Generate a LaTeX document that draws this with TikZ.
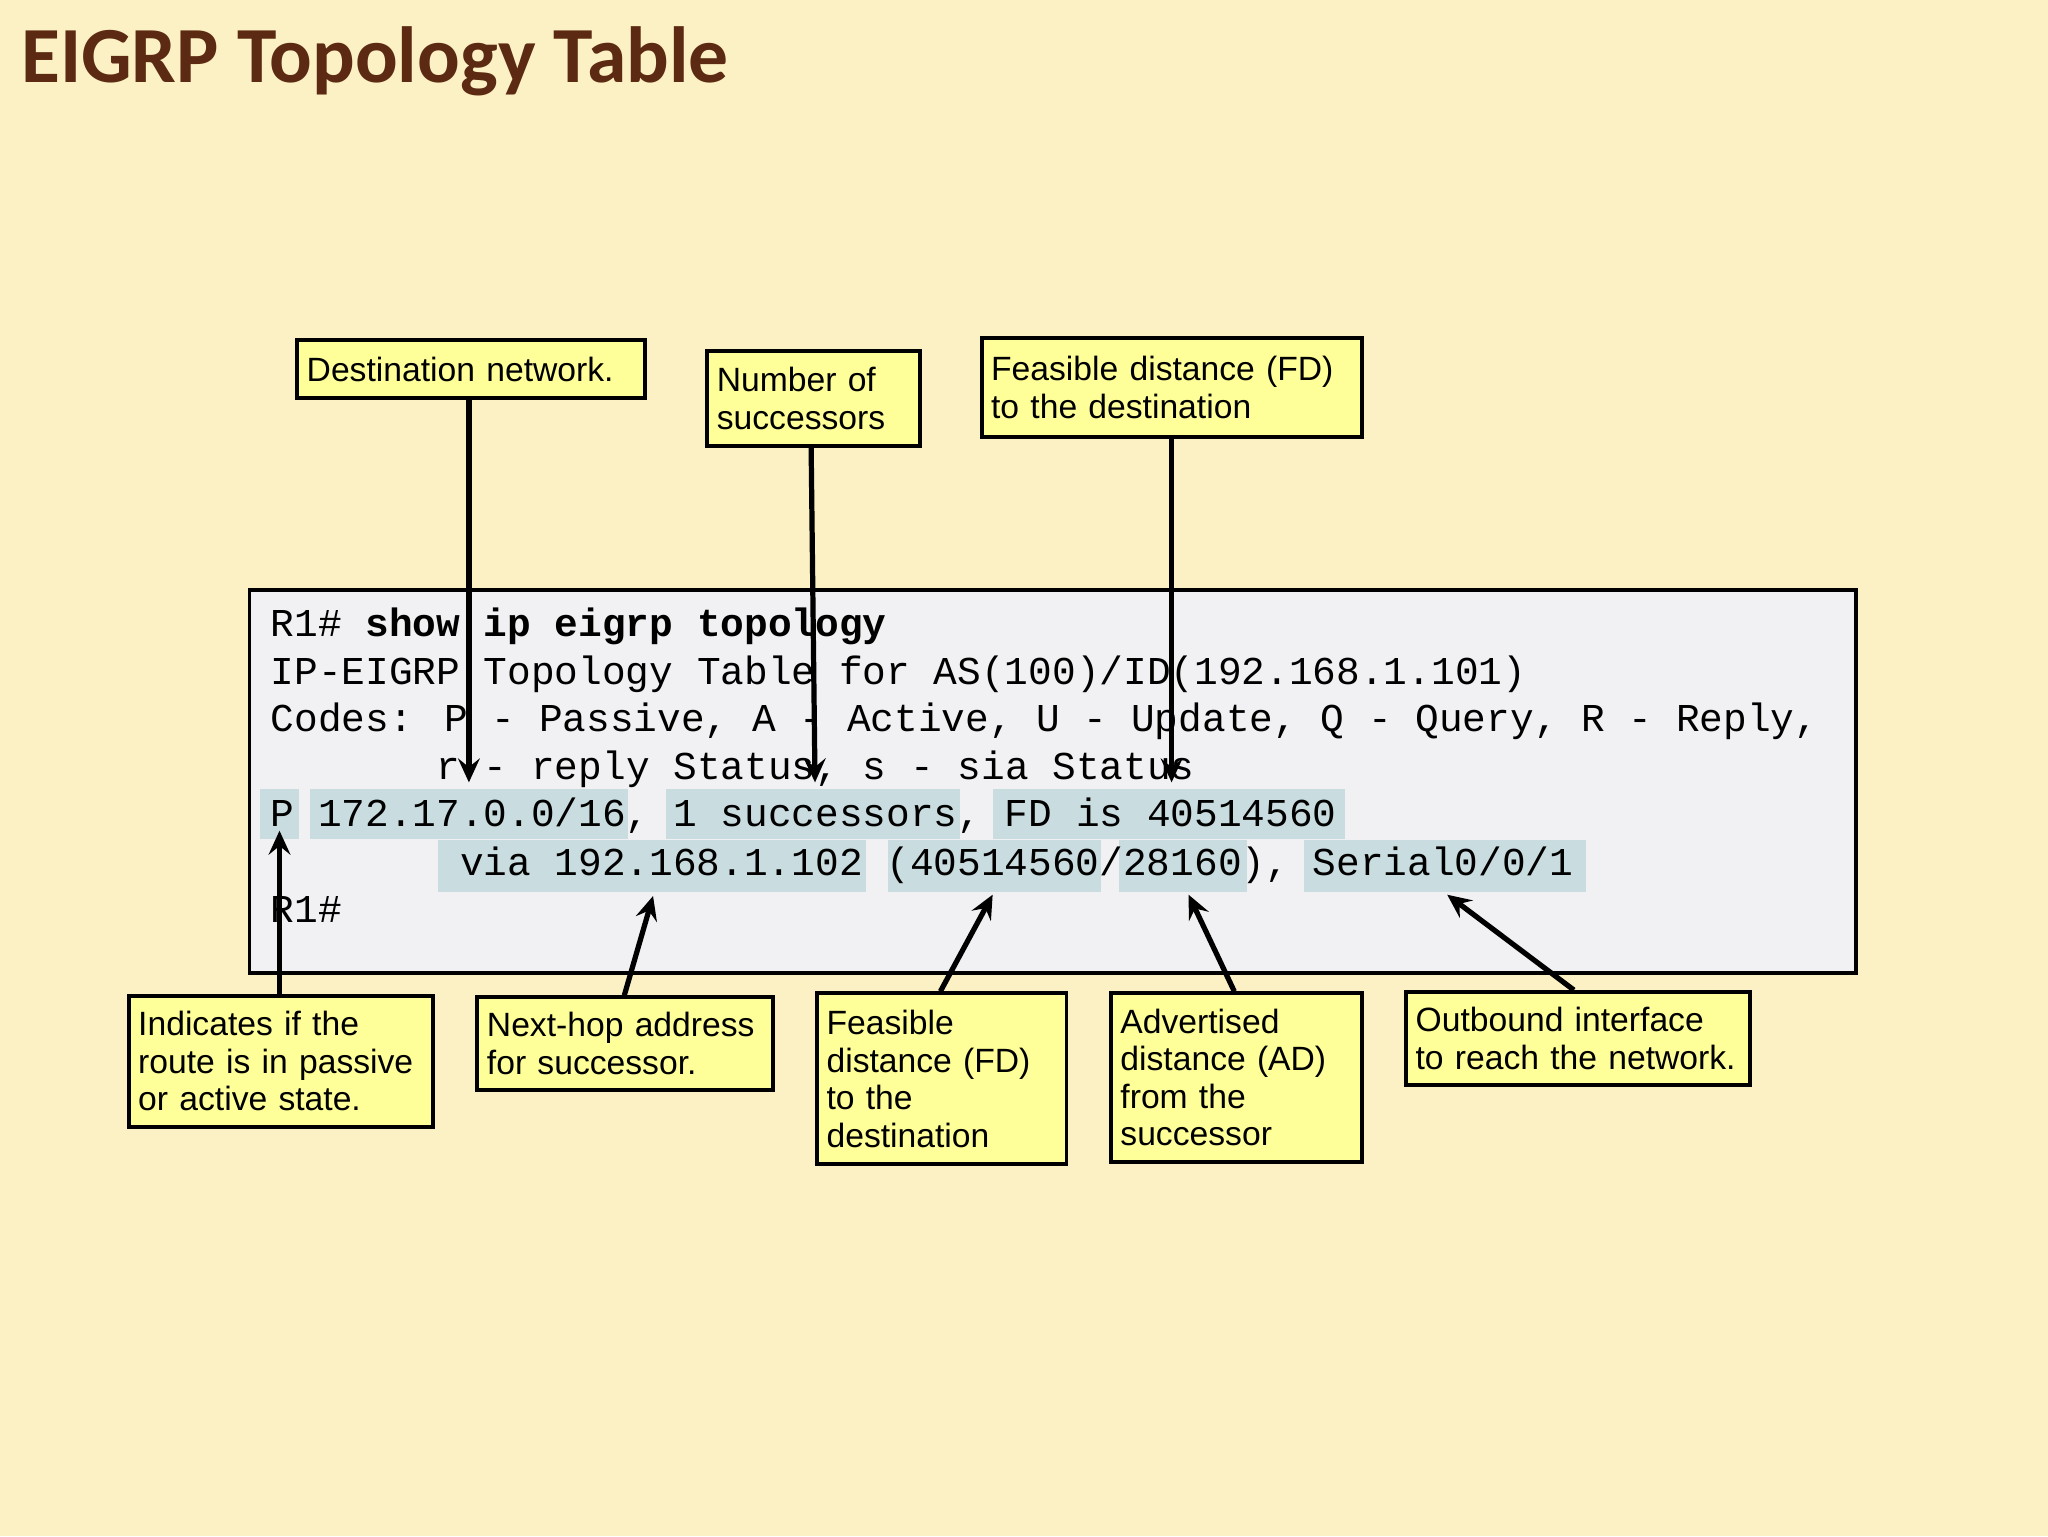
\documentclass[tikz,border=0pt]{standalone}
\usepackage{fontspec}
\setmainfont{Liberation Sans}
\newfontfamily\monofont{Liberation Mono}
\newfontfamily\titlefont{Carlito}
\usetikzlibrary{arrows.meta}
\definecolor{bg}{HTML}{FBF1C4}
\definecolor{codebg}{HTML}{F1F1F3}
\definecolor{hl}{HTML}{C9DCDF}
\definecolor{callout}{HTML}{FFFF99}
\definecolor{titlec}{HTML}{5C2A12}
\begin{document}
\begin{tikzpicture}[x=0.3mm,y=-0.3mm,
  codeline/.style={anchor=base west,inner sep=0pt,font=\monofont\fontsize{25.8}{30}\selectfont},
  hlbox/.style={fill=hl,draw=none},
  callbox/.style={draw=black,line width=0.9mm,fill=callout,anchor=north west,align=left,inner sep=2.2mm,font=\fontsize{22}{24.5}\selectfont},
  pointer/.style={line width=1.2mm,-{Stealth[length=5.5mm,width=5mm,inset=2mm]}}]
\useasboundingbox (0,0) rectangle (1568,1176);
\fill[bg] (0,0) rectangle (1568,1176);
\node[anchor=west,inner sep=0pt,text=titlec,font=\titlefont\bfseries\fontsize{52}{56}\selectfont] (title) at (16,47) {EIGRP Topology Table};
% code box
\draw[fill=codebg,line width=0.9mm] (191,452) rectangle (1421,745);
\fill[hlbox] (199,604) rectangle (229,642);
\fill[hlbox] (237,604) rectangle (481,642);
\fill[hlbox] (510,604) rectangle (735,642);
\fill[hlbox] (760,604) rectangle (1030,642);
\fill[hlbox] (335,643) rectangle (663,683);
\fill[hlbox] (680,643) rectangle (843,683);
\fill[hlbox] (857,643) rectangle (955,683);
\fill[hlbox] (998,643) rectangle (1214,683);
\node[codeline] (l1) at (207,487) {R1\# \textbf{show ip eigrp topology}};
\node[codeline] (l2) at (207,524) {IP-EIGRP Topology Table for AS(100)/ID(192.168.1.101)};
\node[codeline] (l3) at (207,560) {Codes: P - Passive, A - Active, U - Update, Q - Query, R - Reply,};
\node[codeline] (l4) at (334,597) {r - reply Status, s - sia Status};
\node[codeline] (l5) at (207,633) {P 172.17.0.0/16, 1 successors, FD is 40514560};
\node[codeline] (l6) at (352,670) {via 192.168.1.102 (40514560/28160), Serial0/0/1};
\node[codeline] (l7) at (207,706) {R1\#};
% callouts
\node[callbox,text width=75.4mm,minimum height=13.2mm] (c1) at (226,259) {Destination network.};
\node[callbox,text width=44.5mm,minimum height=21.9mm] (c2) at (540,267) {Number of\\successors};
\node[callbox,text width=82.9mm,minimum height=22.8mm] (c3) at (750,257) {Feasible distance (FD)\\to the destination};
\node[callbox,text width=65.5mm,minimum height=30mm] (c4) at (97,761) {Indicates if the\\route is in passive\\or active state.};
\node[callbox,text width=63.4mm,minimum height=21.3mm] (c5) at (364,762) {Next-hop address\\for successor.};
\node[callbox,text width=52.9mm,minimum height=39.3mm] (c6) at (624,759) {Feasible\\distance (FD)\\to the\\destination};
\node[callbox,text width=53.2mm,minimum height=38.7mm] (c7) at (849,759) {Advertised\\distance (AD)\\from the\\successor};
\node[callbox,text width=74.5mm,minimum height=21.3mm] (c8) at (1075,758) {Outbound interface\\to reach the network.};
% pointers
\coordinate (p1) at (359,599);
\coordinate (p2) at (624,599);
\coordinate (p3) at (897,599);
\coordinate (p4) at (214,636);
\coordinate (p5) at (500,686);
\coordinate (p6) at (760,685);
\coordinate (p7) at (910,685);
\coordinate (p8) at (1108,685);
\draw[pointer] (c1.south -| p1) -- (p1);
\draw[pointer] (621,340) -- (p2);
\draw[pointer] (c3.south -| p3) -- (p3);
\draw[pointer] (c4.north -| p4) -- (p4);
\draw[pointer] (478,762) -- (p5);
\draw[pointer] (720,759) -- (p6);
\draw[pointer] (945,759) -- (p7);
\draw[pointer] (1205,758) -- (p8);
\end{tikzpicture}
\end{document}
